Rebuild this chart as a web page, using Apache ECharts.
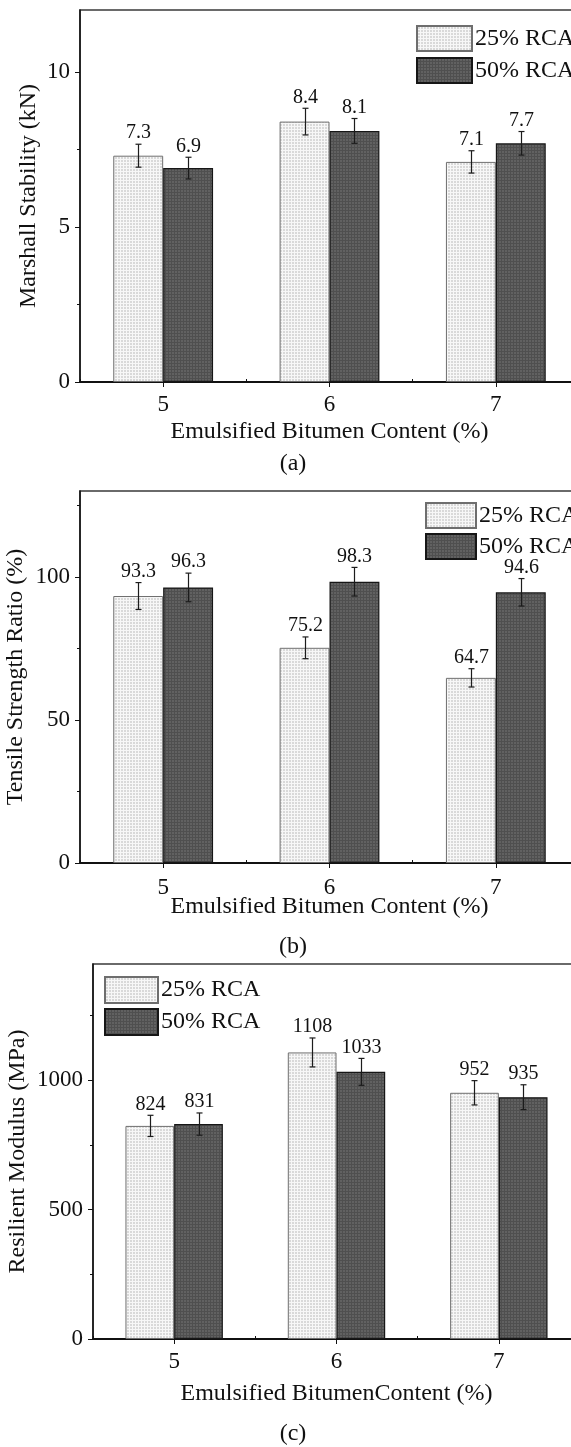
<!DOCTYPE html>
<html>
<head>
<meta charset="utf-8">
<script src="https://cdn.jsdelivr.net/npm/echarts@6/dist/echarts.min.js"></script>
<style>
  html, body { margin: 0; padding: 0; background: #ffffff; }
  #chart { width: 571px; height: 1447px; }
</style>
</head>
<body>
<div id="chart"></div>
<script>
// Shared categories: emulsified bitumen content (%)
const categories = ['5', '6', '7'];
const seriesNames = ['25% RCA', '50% RCA'];

// (a) Marshall stability (kN)
const stability25 = [7.3, 8.4, 7.1];
const stability50 = [6.9, 8.1, 7.7];
const stabilityErr25 = [0.37, 0.43, 0.36];
const stabilityErr50 = [0.35, 0.40, 0.38];
const stabilityTicks = [0, 5, 10];
const stabilityMinorTicks = [2.5, 7.5];

// (b) Tensile strength ratio (%)
const tsr25 = [93.3, 75.2, 64.7];
const tsr50 = [96.3, 98.3, 94.6];
const tsrErr25 = [4.7, 3.8, 3.2];
const tsrErr50 = [5.0, 5.0, 4.8];
const tsrTicks = [0, 50, 100];
const tsrMinorTicks = [25, 75, 125];

// (c) Resilient modulus (MPa)
const modulus25 = [824, 1108, 952];
const modulus50 = [831, 1033, 935];
const modulusErr25 = [41, 56, 47];
const modulusErr50 = [43, 52, 48];
const modulusTicks = [0, 500, 1000];
const modulusMinorTicks = [250, 750, 1250];

const FONT = '"Liberation Serif", "Times New Roman", serif';
const INK = '#111111';

// Fine grid fill patterns for the two bar groups
function gridPattern(bg, line) {
  const c = document.createElement('canvas');
  c.width = 3; c.height = 3;
  const g = c.getContext('2d');
  g.fillStyle = bg; g.fillRect(0, 0, 3, 3);
  g.fillStyle = line; g.fillRect(0, 0, 3, 1); g.fillRect(0, 0, 1, 3);
  return { image: c, repeat: 'repeat' };
}
const lightFill = gridPattern('#d9d9d9', '#f7f7f7');
const darkFill = gridPattern('#616161', '#4f4f4f');
const styles = [
  { color: lightFill, borderColor: '#6e6e6e', borderWidth: 1 },
  { color: darkFill, borderColor: '#161616', borderWidth: 1.2 }
];

const panels = [
  {
    grid: { left: 80, top: 10, width: 499, height: 372 },
    yMax: 12, ticks: stabilityTicks, minor: stabilityMinorTicks,
    yName: 'Marshall Stability (kN)', yNameGap: 39,
    xName: 'Emulsified Bitumen Content (%)', xNameGap: 38, xLabelMargin: 11,
    legend: { left: 411, top: 20, itemWidth: 55, itemHeight: 25, itemGap: 5 },
    caption: '(a)', captionY: 464, decimals: 1,
    values: [stability25, stability50], errs: [stabilityErr25, stabilityErr50]
  },
  {
    grid: { left: 80, top: 491, width: 499, height: 372 },
    yMax: 130, ticks: tsrTicks, minor: tsrMinorTicks,
    yName: 'Tensile Strength Ratio (%)', yNameGap: 52,
    xName: 'Emulsified Bitumen Content (%)', xNameGap: 32, xLabelMargin: 13,
    legend: { left: 420, top: 497, itemWidth: 50, itemHeight: 25, itemGap: 4 },
    caption: '(b)', captionY: 947, decimals: 1,
    values: [tsr25, tsr50], errs: [tsrErr25, tsrErr50]
  },
  {
    grid: { left: 93, top: 964, width: 487, height: 375 },
    yMax: 1450, ticks: modulusTicks, minor: modulusMinorTicks,
    yName: 'Resilient Modulus (MPa)', yNameGap: 63,
    xName: 'Emulsified BitumenContent (%)', xNameGap: 43, xLabelMargin: 11,
    legend: { left: 99, top: 971, itemWidth: 53, itemHeight: 26, itemGap: 4 },
    caption: '(c)', captionY: 1434, decimals: 0,
    values: [modulus25, modulus50], errs: [modulusErr25, modulusErr50]
  }
];

const grids = [], xAxes = [], yAxes = [], series = [], legends = [], graphics = [];

// Bars sit at ±0.15 of the band (40% category gap, no gap between pair)
const offsets = [-0.15, 0.15];

function errorSeries(p, k, gi) {
  const vals = p.values[k], errs = p.errs[k];
  const off = offsets[k], dec = p.decimals;
  return {
    type: 'custom',
    xAxisIndex: gi * 2, yAxisIndex: gi * 2,
    z: 5,
    data: vals.map((v, i) => [i, v, errs[i]]),
    renderItem: function (params, api) {
      const i = api.value(0), v = api.value(1), e = api.value(2);
      const band = api.size([1, 0])[0];
      const x = Math.round(api.coord([i, v])[0] + off * band) + 0.5;
      const yt = api.coord([i, v + e])[1];
      const yb = api.coord([i, v - e])[1];
      const cap = 3;
      const ls = { stroke: '#1c1c1c', lineWidth: 1.2 };
      return {
        type: 'group',
        children: [
          { type: 'line', shape: { x1: x, y1: yt, x2: x, y2: yb }, style: ls },
          { type: 'line', shape: { x1: x - cap, y1: yt, x2: x + cap, y2: yt }, style: ls },
          { type: 'line', shape: { x1: x - cap, y1: yb, x2: x + cap, y2: yb }, style: ls },
          {
            type: 'text',
            style: {
              text: v.toFixed(dec), x: x, y: yt - 1,
              align: 'center', verticalAlign: 'bottom',
              fontSize: 20, fontFamily: FONT, fill: INK
            }
          }
        ]
      };
    }
  };
}

panels.forEach((p, gi) => {
  grids.push(Object.assign({
    show: true, borderColor: '#3a3a3a', borderWidth: 1.5, backgroundColor: 'transparent',
    containLabel: false, outerBoundsMode: 'none'
  }, p.grid));

  // main category axis: labels + ticks at category centres
  xAxes.push({
    type: 'category', gridIndex: gi, data: categories,
    name: p.xName, nameLocation: 'middle', nameGap: p.xNameGap, nameMoveOverlap: false,
    nameTextStyle: { fontSize: 24, fontFamily: FONT, color: INK },
    axisLine: { show: true, lineStyle: { color: INK, width: 2 } },
    axisTick: { show: true, alignWithLabel: true, length: 5, lineStyle: { color: INK, width: 1 } },
    axisLabel: { margin: p.xLabelMargin, fontSize: 23, fontFamily: FONT, color: INK },
    splitLine: { show: false }
  });
  // companion axis: short ticks at category boundaries
  xAxes.push({
    type: 'category', gridIndex: gi, data: categories,
    axisLine: { show: false },
    axisTick: { show: true, alignWithLabel: false, length: 3, lineStyle: { color: INK, width: 1 } },
    axisLabel: { show: false },
    splitLine: { show: false }
  });

  yAxes.push({
    type: 'value', gridIndex: gi, min: 0, max: p.yMax,
    name: p.yName, nameLocation: 'middle', nameGap: p.yNameGap, nameMoveOverlap: false,
    nameTextStyle: { fontSize: 24, fontFamily: FONT, color: INK },
    axisLine: { show: true, lineStyle: { color: INK, width: 1.5 } },
    axisTick: { show: true, length: 5, customValues: p.ticks, lineStyle: { color: INK, width: 1 } },
    axisLabel: {
      customValues: p.ticks, margin: 10, fontSize: 23, fontFamily: FONT, color: INK,
      formatter: v => String(v)
    },
    splitLine: { show: false }
  });
  yAxes.push({
    type: 'value', gridIndex: gi, min: 0, max: p.yMax, position: 'left',
    axisLine: { show: false },
    axisTick: { show: true, length: 3, customValues: p.minor, lineStyle: { color: INK, width: 1 } },
    axisLabel: { show: false },
    splitLine: { show: false }
  });

  [0, 1].forEach(k => {
    series.push({
      type: 'bar', name: seriesNames[k],
      xAxisIndex: gi * 2, yAxisIndex: gi * 2,
      data: p.values[k],
      barGap: '0%', barCategoryGap: '40%',
      itemStyle: styles[k],
      emphasis: { disabled: true },
      z: 2
    });
  });
  [0, 1].forEach(k => series.push(errorSeries(p, k, gi)));

  legends.push(Object.assign({
    orient: 'vertical', icon: 'rect', selectedMode: false,
    data: seriesNames,
    textStyle: { fontSize: 24, fontFamily: FONT, color: INK, padding: [0, 0, 0, -2] }
  }, p.legend));

  graphics.push({
    type: 'text', x: 293, y: p.captionY,
    style: { text: p.caption, align: 'center', verticalAlign: 'middle', fontSize: 24, fontFamily: FONT, fill: INK }
  });
});

const chart = echarts.init(document.getElementById('chart'), null, { renderer: 'canvas' });
chart.setOption({
  animation: false,
  backgroundColor: '#ffffff',
  grid: grids,
  xAxis: xAxes,
  yAxis: yAxes,
  legend: legends,
  graphic: graphics,
  series: series
});
</script>
</body>
</html>
